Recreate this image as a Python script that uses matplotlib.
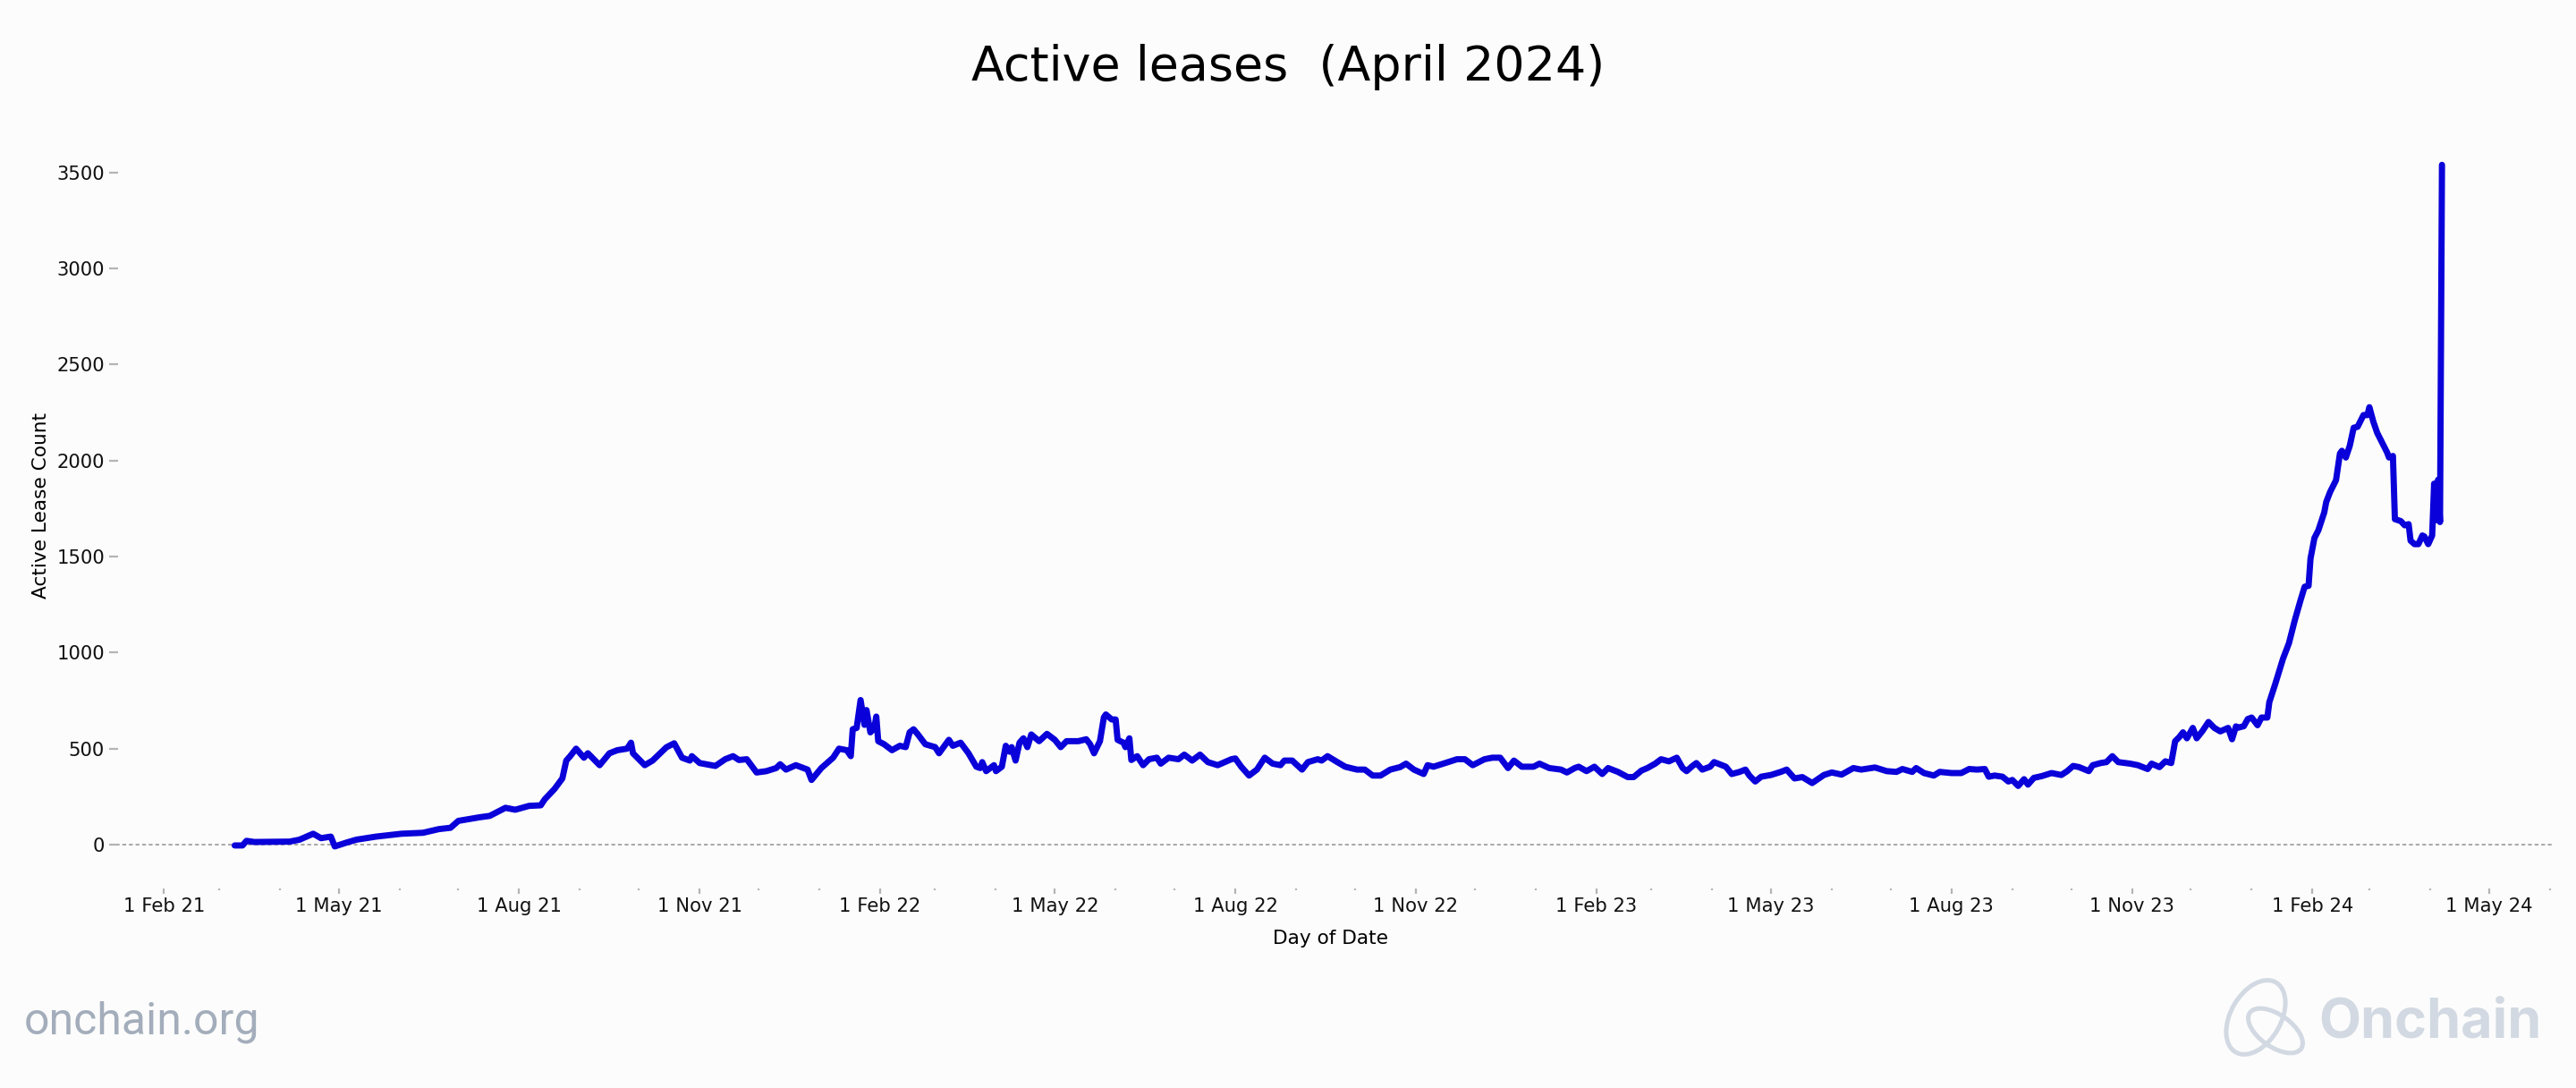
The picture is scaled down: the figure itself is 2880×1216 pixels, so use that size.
import pandas as pd
import matplotlib.pyplot as plt
import matplotlib.dates as mdates
from matplotlib.ticker import FuncFormatter
from matplotlib.patches import Ellipse

dates_2021 = ['2021-03-09', '2021-03-13', '2021-03-15', '2021-03-19', '2021-03-28', '2021-04-06',
              '2021-04-11', '2021-04-18', '2021-04-22', '2021-04-27', '2021-04-29', '2021-05-05',
              '2021-05-10', '2021-05-20', '2021-06-02', '2021-06-13', '2021-06-21', '2021-06-27',
              '2021-07-01', '2021-07-12', '2021-07-17', '2021-07-25', '2021-07-30', '2021-08-06',
              '2021-08-12', '2021-08-14', '2021-08-19', '2021-08-23', '2021-08-25', '2021-08-27',
              '2021-08-30', '2021-09-03', '2021-09-05', '2021-09-11', '2021-09-16', '2021-09-20',
              '2021-09-25', '2021-09-27', '2021-09-28', '2021-10-04', '2021-10-08', '2021-10-15',
              '2021-10-19', '2021-10-23', '2021-10-27', '2021-10-28', '2021-11-01', '2021-11-09',
              '2021-11-14', '2021-11-18', '2021-11-21', '2021-11-25', '2021-11-30', '2021-12-05',
              '2021-12-10', '2021-12-12', '2021-12-15', '2021-12-20', '2021-12-26', '2021-12-28']
values_2021 = [-4, -4, 20, 14, 15, 16,
               26, 57, 34, 42, -9, 11,
               26, 42, 57, 62, 81, 88,
               124, 143, 150, 192, 182, 202,
               205, 236, 290, 345, 438, 461,
               500, 453, 476, 414, 476, 492,
               500, 531, 476, 414, 438, 507,
               528, 453, 438, 461, 425, 410,
               445, 461, 441, 445, 376, 383,
               399, 419, 391, 414, 391, 337]

dates_2022 = ['2022-01-02', '2022-01-08', '2022-01-11', '2022-01-15', '2022-01-17', '2022-01-18',
              '2022-01-20', '2022-01-22', '2022-01-24', '2022-01-25', '2022-01-27', '2022-01-29',
              '2022-01-30', '2022-01-31', '2022-02-03', '2022-02-07', '2022-02-11', '2022-02-14',
              '2022-02-16', '2022-02-18', '2022-02-20', '2022-02-24', '2022-03-01', '2022-03-03',
              '2022-03-08', '2022-03-10', '2022-03-14', '2022-03-18', '2022-03-22', '2022-03-24',
              '2022-03-25', '2022-03-27', '2022-03-31', '2022-04-01', '2022-04-04', '2022-04-06',
              '2022-04-08', '2022-04-09', '2022-04-11', '2022-04-13', '2022-04-15', '2022-04-17',
              '2022-04-19', '2022-04-23', '2022-04-27', '2022-05-01', '2022-05-04', '2022-05-07',
              '2022-05-13', '2022-05-17', '2022-05-19', '2022-05-21', '2022-05-24', '2022-05-26',
              '2022-05-27', '2022-05-30', '2022-06-01', '2022-06-02', '2022-06-05', '2022-06-06',
              '2022-06-08', '2022-06-09', '2022-06-12', '2022-06-15', '2022-06-18', '2022-06-22',
              '2022-06-24', '2022-06-28', '2022-07-03', '2022-07-06', '2022-07-10', '2022-07-14',
              '2022-07-18', '2022-07-23', '2022-07-30', '2022-08-01', '2022-08-04', '2022-08-08',
              '2022-08-12', '2022-08-16', '2022-08-20', '2022-08-24', '2022-08-26', '2022-08-30',
              '2022-09-04', '2022-09-07', '2022-09-12', '2022-09-14', '2022-09-17', '2022-09-22',
              '2022-09-26', '2022-10-02', '2022-10-06', '2022-10-10', '2022-10-14', '2022-10-19',
              '2022-10-24', '2022-10-27', '2022-10-31', '2022-11-05', '2022-11-07', '2022-11-10',
              '2022-11-15', '2022-11-22', '2022-11-26', '2022-11-30', '2022-12-06', '2022-12-10',
              '2022-12-14', '2022-12-18', '2022-12-21', '2022-12-25', '2022-12-31']
values_2022 = [399, 453, 500, 492, 461, 601,
               608, 753, 624, 701, 585, 608,
               667, 539, 523, 492, 515, 508,
               585, 601, 577, 523, 508, 476,
               546, 515, 531, 476, 406, 399,
               430, 383, 414, 383, 406, 515,
               484, 508, 438, 531, 554, 508,
               574, 539, 577, 546, 508, 539,
               539, 549, 523, 476, 539, 663,
               678, 652, 652, 546, 531, 508,
               554, 441, 461, 414, 445, 453,
               422, 453, 445, 469, 438, 469,
               430, 414, 445, 449, 406, 360,
               391, 453, 422, 414, 438, 438,
               391, 430, 445, 438, 461, 430,
               406, 391, 391, 360, 360, 391,
               404, 422, 391, 368, 414, 406,
               422, 445, 445, 414, 445, 453,
               453, 399, 438, 406, 406]

dates_2023 = ['2023-01-03', '2023-01-08', '2023-01-14', '2023-01-17', '2023-01-21', '2023-01-23',
              '2023-01-27', '2023-01-31', '2023-02-04', '2023-02-07', '2023-02-12', '2023-02-17',
              '2023-02-20', '2023-02-24', '2023-02-27', '2023-03-03', '2023-03-06', '2023-03-10',
              '2023-03-14', '2023-03-17', '2023-03-19', '2023-03-22', '2023-03-24', '2023-03-27',
              '2023-03-31', '2023-04-02', '2023-04-08', '2023-04-11', '2023-04-15', '2023-04-18',
              '2023-04-20', '2023-04-23', '2023-04-26', '2023-05-01', '2023-05-06', '2023-05-09',
              '2023-05-13', '2023-05-17', '2023-05-22', '2023-05-28', '2023-06-01', '2023-06-06',
              '2023-06-12', '2023-06-16', '2023-06-23', '2023-06-29', '2023-07-04', '2023-07-07',
              '2023-07-12', '2023-07-14', '2023-07-18', '2023-07-23', '2023-07-26', '2023-08-01',
              '2023-08-06', '2023-08-10', '2023-08-14', '2023-08-18', '2023-08-20', '2023-08-23',
              '2023-08-27', '2023-08-30', '2023-09-01', '2023-09-04', '2023-09-07', '2023-09-09',
              '2023-09-12', '2023-09-16', '2023-09-21', '2023-09-26', '2023-09-29', '2023-10-02',
              '2023-10-05', '2023-10-10', '2023-10-12', '2023-10-16', '2023-10-19', '2023-10-22',
              '2023-10-25', '2023-10-31', '2023-11-04', '2023-11-09', '2023-11-11', '2023-11-15',
              '2023-11-18', '2023-11-21', '2023-11-23', '2023-11-25', '2023-11-27', '2023-11-29',
              '2023-12-02', '2023-12-04', '2023-12-07', '2023-12-10', '2023-12-13', '2023-12-16',
              '2023-12-20', '2023-12-22', '2023-12-24', '2023-12-25', '2023-12-28', '2023-12-30']
values_2023 = [422, 399, 391, 376, 399, 406,
               383, 406, 368, 399, 379, 352,
               352, 386, 399, 422, 445, 434,
               453, 399, 383, 410, 425, 391,
               406, 430, 406, 368, 379, 391,
               360, 329, 354, 363, 379, 391,
               345, 352, 321, 363, 376, 365,
               399, 391, 402, 383, 379, 394,
               379, 399, 373, 360, 379, 373,
               373, 394, 391, 394, 354, 360,
               354, 329, 337, 306, 341, 313,
               348, 357, 373, 363, 383, 410,
               404, 383, 414, 425, 430, 461,
               430, 422, 414, 394, 422, 404,
               434, 425, 539, 559, 585, 554,
               608, 554, 593, 639, 608, 590,
               608, 549, 616, 609, 617, 654]

dates_2024 = ['2024-01-01', '2024-01-04', '2024-01-06', '2024-01-09', '2024-01-10', '2024-01-13',
              '2024-01-15', '2024-01-17', '2024-01-20', '2024-01-23', '2024-01-26', '2024-01-28',
              '2024-01-30', '2024-01-31', '2024-02-02', '2024-02-04', '2024-02-07', '2024-02-08',
              '2024-02-10', '2024-02-13', '2024-02-15', '2024-02-16', '2024-02-18', '2024-02-20',
              '2024-02-22', '2024-02-24', '2024-02-27', '2024-02-29', '2024-03-01', '2024-03-03',
              '2024-03-05', '2024-03-07', '2024-03-10', '2024-03-11', '2024-03-13', '2024-03-14',
              '2024-03-17', '2024-03-19', '2024-03-21', '2024-03-22', '2024-03-24', '2024-03-26',
              '2024-03-28', '2024-03-29', '2024-03-31', '2024-04-02', '2024-04-03', '2024-04-04',
              '2024-04-05', '2024-04-06', '2024-04-07']
values_2024 = [662, 622, 662, 662, 742, 836,
               902, 969, 1049, 1169, 1276, 1343,
               1348, 1490, 1597, 1637, 1730, 1784,
               1837, 1898, 2037, 2051, 2016, 2077,
               2171, 2176, 2237, 2237, 2278, 2203,
               2144, 2104, 2043, 2016, 2024, 1695,
               1685, 1663, 1669, 1583, 1565, 1565,
               1610, 1605, 1565, 1610, 1880, 1690,
               1900, 1680, 3540]

y_ticks = [0, 500, 1000, 1500, 2000, 2500, 3000, 3500]

dates = pd.to_datetime(dates_2021 + dates_2022 + dates_2023 + dates_2024)
values = values_2021 + values_2022 + values_2023 + values_2024

bg = '#fcfcfc'
W, H = 2880, 1216

fig = plt.figure(figsize=(14.4, 6.08), dpi=200, facecolor=bg)
ax = fig.add_axes([122 / W, 1 - 993 / H, (2853 - 122) / W, (993 - 137) / H])
ax.set_facecolor(bg)

ax.plot(dates, values, color='#0a00d9', lw=2.5, solid_joinstyle='round', solid_capstyle='round')
ax.axhline(0, color='#a8a8a8', lw=0.7, ls=(0, (2.2, 1.6)), zorder=0)

ax.set_xlim(pd.Timestamp('2021-01-04'), pd.Timestamp('2024-06-02'))
ax.set_ylim(-228, 3760)
ax.set_yticks(y_ticks)

ax.xaxis.set_major_locator(mdates.MonthLocator(bymonth=[2, 5, 8, 11]))
ax.xaxis.set_minor_locator(mdates.MonthLocator())
ax.xaxis.set_major_formatter(FuncFormatter(
    lambda v, p: f"{mdates.num2date(v).day} {mdates.num2date(v):%b %y}"))

for s in ax.spines.values():
    s.set_visible(False)

ax.tick_params(axis='y', direction='in', length=3.6, width=0.8, color='#b4b4b4',
               labelsize=7.6, pad=1.8, labelcolor='#111111')
ax.tick_params(axis='x', which='major', direction='out', length=2.3, width=0.8,
               color='#b4b4b4', labelsize=7.6, pad=1.2, labelcolor='#111111')
ax.tick_params(axis='x', which='minor', direction='out', length=0.7, width=0.8, color='#b4b4b4')

ax.set_xlabel('Day of Date', fontsize=7.8)
ax.xaxis.set_label_coords(0.5, (993 - 1049) / 856)
ax.xaxis.label.set_va('center')
ax.set_ylabel('Active Lease Count', fontsize=7.8)
ax.yaxis.set_label_coords((46 - 122) / 2731, (993 - 565) / 856)
ax.yaxis.label.set_va('center')

fig.text(0.5, 1 - 75 / H, 'Active leases  (April 2024)', ha='center', va='center', fontsize=19.4)

# watermarks
fig.text(27 / W, 1 - 1156 / H, 'onchain.org', fontsize=18, color='#a3adbb',
         family=['Roboto', 'DejaVu Sans'], ha='left', va='baseline')
fig.text(2592 / W, 1 - 1160 / H, 'Onchain', fontsize=22, color='#d2d9e2', fontweight='bold',
         family=['Inter', 'Lato', 'DejaVu Sans'], ha='left', va='baseline')

logo = fig.add_axes([2480 / W, 31 / H, 105 / W, 95 / H])
logo.set_xlim(2480, 2585)
logo.set_ylim(1185, 1090)
logo.axis('off')
logo.add_patch(Ellipse((2522, 1137), 90, 56, angle=-60, fill=False, ec='#d2d9e2', lw=1.8))
logo.add_patch(Ellipse((2544, 1152), 70, 36, angle=35, fill=False, ec='#d2d9e2', lw=1.8))

fig.savefig('out.png', dpi=200, facecolor=bg)
